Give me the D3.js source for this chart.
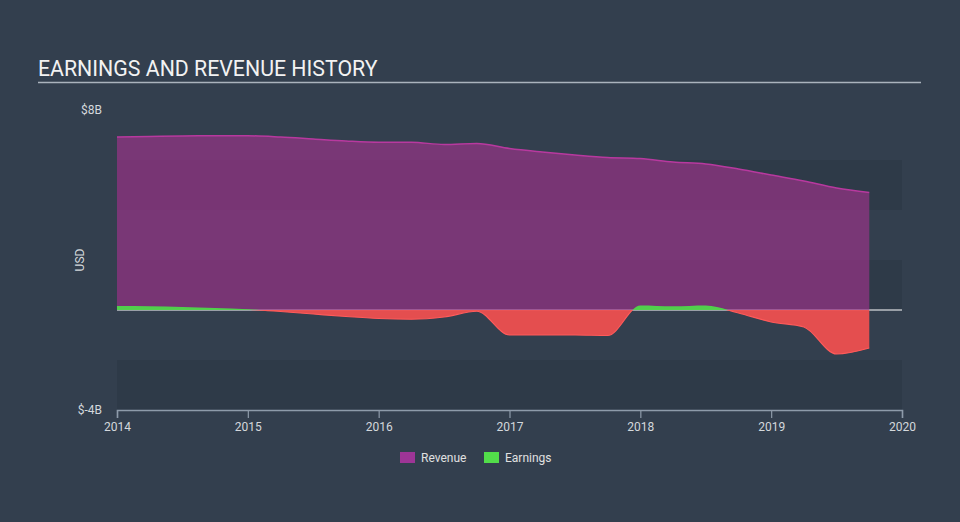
<!DOCTYPE html>
<html><head><meta charset="utf-8">
<script src="https://cdn.jsdelivr.net/npm/d3@7"></script>
<style>
html,body{margin:0;padding:0;background:#333f4e;}
svg{display:block;font-family:Roboto,"Open Sans",sans-serif;}
</style></head>
<body>
<svg id="chart" width="960" height="522"></svg>
<script>
const periods = [2014.0,2014.25,2014.5,2014.75,2015.0,2015.25,2015.5,2015.75,2016.0,2016.25,2016.5,2016.75,2017.0,2017.25,2017.5,2017.75,2018.0,2018.25,2018.5,2018.75,2019.0,2019.25,2019.5,2019.75];
const revenue = [6.92,6.94,6.96,6.97,6.97,6.92,6.84,6.76,6.71,6.71,6.62,6.66,6.46,6.32,6.20,6.10,6.06,5.92,5.84,5.64,5.40,5.16,4.88,4.70];
const earnings = [0.16,0.15,0.12,0.08,0.03,-0.06,-0.16,-0.26,-0.34,-0.37,-0.28,-0.05,-1.00,-1.00,-1.00,-1.02,0.18,0.15,0.18,-0.12,-0.48,-0.68,-1.76,-1.52];
const xTicks = [2014,2015,2016,2017,2018,2019,2020];
const yTickLabels = [{v:8,t:"$8B"},{v:-4,t:"$-4B"}];

const svg = d3.select("#chart");
const x = d3.scaleLinear().domain([2014,2020]).range([117,902]);
const y = d3.scaleLinear().domain([-4,8]).range([410,110]);

// title
svg.append("text").attr("x",38).attr("y",76).attr("fill","#f2f2f2")
  .attr("font-size",21.3).text("EARNINGS AND REVENUE HISTORY");
svg.append("line").attr("x1",38).attr("x2",921).attr("y1",82.5).attr("y2",82.5)
  .attr("stroke","#aab3bd").attr("stroke-width",1.5);

// bands (darker alternate)
const darkBands = [[6,4],[2,0],[-2,-4]];
svg.append("g").selectAll("rect").data(darkBands).join("rect")
  .attr("x",x(2014)).attr("width",x(2020)-x(2014))
  .attr("y",d=>y(d[0])).attr("height",d=>y(d[1])-y(d[0]))
  .attr("fill","#2e3a48");

// zero line
svg.append("line").attr("x1",x(2014)).attr("x2",x(2020)).attr("y1",y(0)).attr("y2",y(0))
  .attr("stroke","#ffffff").attr("stroke-width",1.2);

const data = periods.map((p,i)=>({p,r:revenue[i],e:earnings[i]}));
const curve = d3.curveMonotoneX;

// revenue
svg.append("path").datum(data)
  .attr("d", d3.area().curve(curve).x(d=>x(d.p)).y0(y(0)).y1(d=>y(d.r)))
  .attr("fill","#a0328c").attr("fill-opacity",0.65);
svg.append("path").datum(data)
  .attr("d", d3.line().curve(curve).x(d=>x(d.p)).y(d=>y(d.r)))
  .attr("fill","none").attr("stroke","#b8399f").attr("stroke-width",1.5);

// earnings with clipping
const defs = svg.append("defs");
defs.append("clipPath").attr("id","pos").append("rect")
  .attr("x",0).attr("y",0).attr("width",960).attr("height",y(0));
defs.append("clipPath").attr("id","neg").append("rect")
  .attr("x",0).attr("y",y(0)).attr("width",960).attr("height",522-y(0));
const eArea = d3.area().curve(curve).x(d=>x(d.p)).y0(y(0)).y1(d=>y(d.e));
const eLine = d3.line().curve(curve).x(d=>x(d.p)).y(d=>y(d.e));
svg.append("path").datum(data).attr("d",eArea).attr("clip-path","url(#pos)")
  .attr("fill","#4fd84a").attr("fill-opacity",0.95);
svg.append("path").datum(data).attr("d",eArea).attr("clip-path","url(#neg)")
  .attr("fill","#ef5050").attr("fill-opacity",0.94);
svg.append("path").datum(data).attr("d",eLine).attr("clip-path","url(#neg)")
  .attr("fill","none").attr("stroke","#ff5a5a").attr("stroke-width",1.2);

// x axis
const xAxis = d3.axisBottom(x).tickValues(xTicks).tickFormat(d3.format("d")).tickSize(8).tickPadding(4);
const gx = svg.append("g").attr("transform",`translate(0,${y(-4)})`).call(xAxis);
gx.select(".domain").attr("stroke","#8e9baa").attr("stroke-width",1.5);
gx.selectAll(".tick line").attr("stroke","#8e9baa").attr("stroke-width",1.2);
gx.selectAll("text").attr("fill","#d4d8dc").attr("font-size",12).attr("font-family","Roboto,sans-serif");

// y labels
svg.append("g").selectAll("text").data(yTickLabels).join("text")
  .attr("x",102).attr("y",d=>y(d.v)+4).attr("text-anchor","end")
  .attr("fill","#d4d8dc").attr("font-size",12).text(d=>d.t);
svg.append("text").attr("transform",`translate(84,${y(2)}) rotate(-90)`)
  .attr("text-anchor","middle").attr("fill","#d4d8dc").attr("font-size",12).text("USD");

// legend
const legend = [{n:"Revenue",c:"#9e3596",x:400},{n:"Earnings",c:"#52dd4a",x:484}];
const lg = svg.append("g").selectAll("g").data(legend).join("g")
  .attr("transform",d=>`translate(${d.x},452)`);
lg.append("rect").attr("width",15).attr("height",11).attr("fill",d=>d.c);
lg.append("text").attr("x",21).attr("y",10).attr("fill","#e0e0e0").attr("font-size",12).text(d=>d.n);
</script>
</body></html>
